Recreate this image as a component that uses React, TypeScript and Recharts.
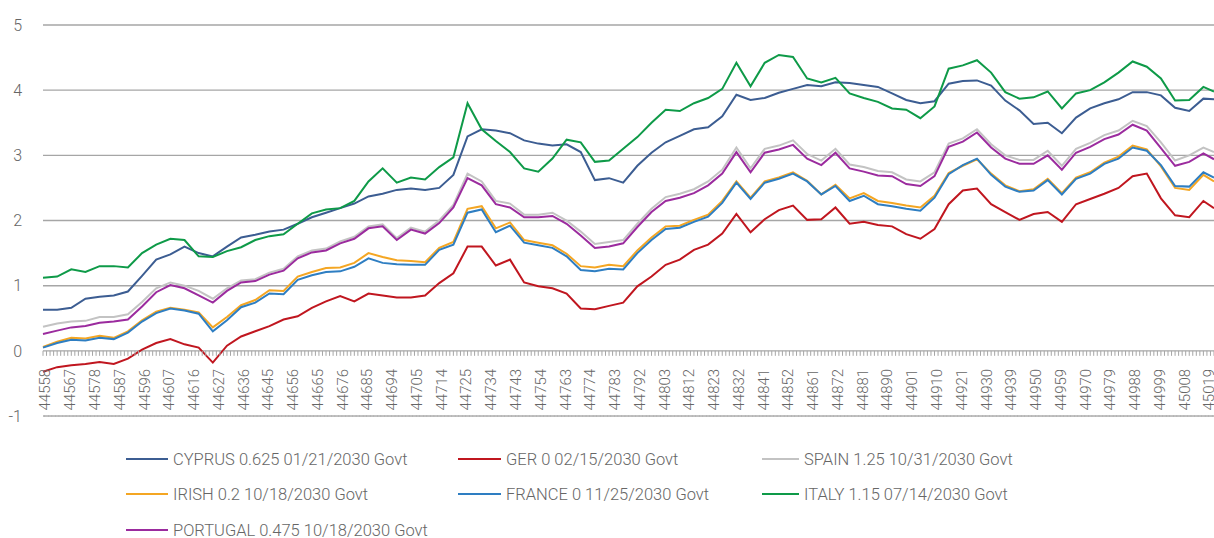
import { LineChart, Line, XAxis, YAxis, CartesianGrid } from "recharts";

// axis: Excel date serials, business days only
const FIRST_DAY = 44558;
const LAST_DAY = 45021;

const TICK_LABELS = [
  44558, 44567, 44578, 44587, 44596, 44607, 44616, 44627, 44636, 44645, 44656, 44665,
  44676, 44685, 44694, 44705, 44714, 44725, 44734, 44743, 44754, 44763, 44774, 44783,
  44792, 44803, 44812, 44823, 44832, 44841, 44852, 44861, 44872, 44881, 44890, 44901,
  44910, 44921, 44930, 44939, 44950, 44959, 44970, 44979, 44988, 44999, 45008, 45019,
];
const Y_TICKS = [-1, 0, 1, 2, 3, 4, 5];
const GRID_VALUES = [0, 1, 2, 3, 4, 5];

// yields read every 4th business day (plus the last day)
const CYPRUS = [
  0.63, 0.63, 0.66, 0.8, 0.83, 0.85, 0.91, 1.15, 1.4, 1.48, 1.6, 1.5, 1.45, 1.6, 1.74,
  1.78, 1.83, 1.86, 1.95, 2.05, 2.12, 2.19, 2.26, 2.37, 2.41, 2.47, 2.49, 2.47,
  2.5, 2.7, 3.29, 3.4, 3.38, 3.34, 3.23, 3.18, 3.15, 3.17, 3.05, 2.62, 2.65, 2.58,
  2.84, 3.04, 3.2, 3.3, 3.4, 3.43, 3.6, 3.93, 3.85, 3.88, 3.96, 4.02, 4.08, 4.06,
  4.12, 4.11, 4.08, 4.05, 3.95, 3.85, 3.8, 3.83, 4.1, 4.14, 4.15, 4.07, 3.84, 3.69,
  3.48, 3.5, 3.34, 3.58, 3.72, 3.8, 3.86, 3.97, 3.97, 3.92, 3.73, 3.68, 3.87, 3.86,
];
const GER = [
  -0.32, -0.25, -0.22, -0.2, -0.17, -0.2, -0.12, 0.02, 0.12, 0.18, 0.1, 0.05, -0.18, 0.08, 0.22,
  0.3, 0.38, 0.48, 0.53, 0.66, 0.76, 0.84, 0.76, 0.88, 0.85, 0.82, 0.82, 0.85,
  1.04, 1.19, 1.6, 1.6, 1.31, 1.4, 1.05, 0.99, 0.96, 0.88, 0.65, 0.64, 0.69, 0.74,
  0.99, 1.14, 1.32, 1.4, 1.55, 1.63, 1.8, 2.1, 1.82, 2.02, 2.16, 2.23, 2.01, 2.02,
  2.2, 1.95, 1.98, 1.93, 1.91, 1.79, 1.72, 1.87, 2.25, 2.46, 2.49, 2.25, 2.13, 2.01,
  2.1, 2.13, 1.98, 2.25, 2.33, 2.41, 2.5, 2.68, 2.72, 2.34, 2.08, 2.05, 2.3, 2.19,
];
const SPAIN = [
  0.37, 0.42, 0.45, 0.46, 0.52, 0.52, 0.56, 0.75, 0.96, 1.05, 1.0, 0.92, 0.8, 0.96, 1.08,
  1.1, 1.2, 1.26, 1.45, 1.54, 1.57, 1.68, 1.75, 1.91, 1.94, 1.73, 1.89, 1.83,
  2.0, 2.24, 2.72, 2.6, 2.3, 2.26, 2.09, 2.09, 2.12, 2.0, 1.83, 1.64, 1.67, 1.7,
  1.95, 2.18, 2.36, 2.41, 2.48, 2.6, 2.78, 3.12, 2.8, 3.1, 3.15, 3.23, 3.02, 2.92,
  3.1, 2.86, 2.82, 2.76, 2.74, 2.63, 2.6, 2.74, 3.18, 3.26, 3.4, 3.17, 3.0, 2.93,
  2.93, 3.07, 2.84, 3.1, 3.19, 3.31, 3.38, 3.53, 3.45, 3.2, 2.92, 3.0, 3.12, 3.05,
];
const IRISH = [
  0.06, 0.14, 0.2, 0.19, 0.23, 0.2, 0.3, 0.47, 0.6, 0.66, 0.63, 0.59, 0.36, 0.52, 0.7,
  0.78, 0.93, 0.92, 1.14, 1.21, 1.27, 1.28, 1.35, 1.5, 1.44, 1.39, 1.38, 1.36,
  1.58, 1.67, 2.18, 2.22, 1.88, 1.97, 1.7, 1.66, 1.62, 1.49, 1.3, 1.28, 1.32, 1.3,
  1.54, 1.74, 1.91, 1.92, 2.01, 2.09, 2.3, 2.6, 2.35, 2.6, 2.66, 2.74, 2.61, 2.4,
  2.55, 2.34, 2.42, 2.3, 2.27, 2.23, 2.2, 2.38, 2.73, 2.84, 2.94, 2.72, 2.54, 2.45,
  2.48, 2.64, 2.42, 2.66, 2.74, 2.89, 2.98, 3.15, 3.09, 2.83, 2.5, 2.47, 2.7, 2.6,
];
const FRANCE = [
  0.05, 0.12, 0.17, 0.16, 0.2, 0.18, 0.28, 0.45, 0.58, 0.65, 0.62, 0.57, 0.3, 0.47, 0.67,
  0.74, 0.88, 0.87, 1.09, 1.16, 1.21, 1.22, 1.29, 1.42, 1.35, 1.33, 1.32, 1.32,
  1.55, 1.63, 2.12, 2.17, 1.82, 1.92, 1.66, 1.62, 1.58, 1.45, 1.24, 1.22, 1.26, 1.25,
  1.5, 1.7, 1.87, 1.89, 1.98, 2.06, 2.27, 2.58, 2.33, 2.58, 2.64, 2.72, 2.6, 2.4,
  2.53, 2.3, 2.38, 2.25, 2.22, 2.18, 2.15, 2.35, 2.71, 2.85, 2.95, 2.7, 2.52, 2.44,
  2.46, 2.62, 2.4, 2.64, 2.72, 2.87, 2.95, 3.12, 3.07, 2.85, 2.53, 2.52, 2.74, 2.66,
];
const ITALY = [
  1.12, 1.14, 1.25, 1.21, 1.3, 1.3, 1.28, 1.5, 1.63, 1.72, 1.7, 1.45, 1.44, 1.53, 1.59,
  1.7, 1.76, 1.79, 1.95, 2.11, 2.17, 2.19, 2.3, 2.6, 2.8, 2.58, 2.66, 2.63,
  2.82, 2.97, 3.8, 3.4, 3.22, 3.05, 2.8, 2.75, 2.95, 3.24, 3.2, 2.9, 2.92, 3.1,
  3.28, 3.5, 3.7, 3.68, 3.8, 3.88, 4.02, 4.42, 4.06, 4.42, 4.54, 4.51, 4.18, 4.12,
  4.19, 3.95, 3.88, 3.82, 3.72, 3.7, 3.57, 3.75, 4.33, 4.38, 4.46, 4.27, 3.97, 3.87,
  3.89, 3.98, 3.72, 3.95, 4.0, 4.12, 4.27, 4.44, 4.36, 4.18, 3.84, 3.85, 4.05, 3.98,
];
const PORTUGAL = [
  0.26, 0.31, 0.36, 0.38, 0.43, 0.45, 0.48, 0.68, 0.9, 1.01, 0.96, 0.85, 0.74, 0.92, 1.05,
  1.07, 1.17, 1.23, 1.42, 1.51, 1.54, 1.65, 1.72, 1.88, 1.91, 1.7, 1.86, 1.8,
  1.96, 2.2, 2.65, 2.54, 2.25, 2.2, 2.05, 2.05, 2.07, 1.95, 1.77, 1.58, 1.6, 1.65,
  1.9, 2.13, 2.3, 2.35, 2.42, 2.54, 2.72, 3.05, 2.74, 3.04, 3.09, 3.16, 2.95, 2.85,
  3.04, 2.8, 2.75, 2.69, 2.68, 2.56, 2.53, 2.68, 3.13, 3.21, 3.35, 3.12, 2.95, 2.87,
  2.87, 3.0, 2.78, 3.04, 3.13, 3.25, 3.32, 3.47, 3.38, 3.11, 2.84, 2.9, 3.03, 2.94,
];

const SERIES = [
  { key: "cyprus", name: "CYPRUS 0.625 01/21/2030 Govt", color: "#3c5d92", values: CYPRUS },
  { key: "ger", name: "GER 0 02/15/2030 Govt", color: "#c0161f", values: GER },
  { key: "spain", name: "SPAIN 1.25 10/31/2030 Govt", color: "#c3c3c3", values: SPAIN },
  { key: "irish", name: "IRISH 0.2 10/18/2030 Govt", color: "#f4a623", values: IRISH },
  { key: "france", name: "FRANCE 0 11/25/2030 Govt", color: "#2e7ec2", values: FRANCE },
  { key: "italy", name: "ITALY 1.15 07/14/2030 Govt", color: "#0e9a48", values: ITALY },
  { key: "portugal", name: "PORTUGAL 0.475 10/18/2030 Govt", color: "#9b2b9e", values: PORTUGAL },
];

const BUSINESS_DAYS: number[] = [];
for (let d = FIRST_DAY; d <= LAST_DAY; d++) {
  if (d % 7 !== 0 && d % 7 !== 1) BUSINESS_DAYS.push(d);
}
const SAMPLE_DAYS = BUSINESS_DAYS.filter(
  (_, i) => i % 4 === 0 || i === BUSINESS_DAYS.length - 1
);

const data = BUSINESS_DAYS.map((day) => {
  const k = SAMPLE_DAYS.indexOf(day);
  const row: Record<string, number | null> = { day };
  SERIES.forEach((s) => {
    row[s.key] = k >= 0 ? s.values[k] : null;
  });
  return row;
});

// a little room under -1 so its gridline is not on the plot edge
const Y_MIN = -1.04;
const Y_MAX = 5;
const UNIT = 65.17;
const PLOT_TOP = 25;
const PLOT_LEFT = 43;
const PLOT_W = 1214 - PLOT_LEFT;
const PLOT_H = UNIT * (Y_MAX - Y_MIN);
const ZERO_Y = PLOT_TOP + UNIT * Y_MAX;
const MINUS_ONE_Y = ZERO_Y + UNIT;
const STEP = PLOT_W / (BUSINESS_DAYS.length - 1);
const CHART_H = 440;
const X_AXIS_H = CHART_H - PLOT_TOP - PLOT_H;
const TEXT = "#666666";
const GRID = "#a6a6a6";

// one tick per business day: a short mark under the zero line, a piece of the
// -1 gridline, and the rotated serial on every 7th day
function DayTick(props: any) {
  const { x, payload } = props;
  const lx = x + 2.5;
  const ly = ZERO_Y + 18;
  const gx1 = Math.max(PLOT_LEFT, x - STEP / 2 - 0.3);
  const gx2 = x + STEP / 2 + 0.3;
  return (
    <g>
      <line x1={x} x2={x} y1={ZERO_Y} y2={ZERO_Y + 5} stroke={GRID} strokeWidth={1} />
      <line x1={gx1} x2={gx2} y1={MINUS_ONE_Y} y2={MINUS_ONE_Y} stroke={GRID} strokeWidth={1.4} />
      {TICK_LABELS.includes(payload.value) && (
        <text
          x={lx}
          y={ly}
          transform={`rotate(-90, ${lx}, ${ly})`}
          textAnchor="end"
          dominantBaseline="central"
          fontSize={15}
          fontWeight={300}
          fill={TEXT}
        >
          {payload.value}
        </text>
      )}
    </g>
  );
}

const LEGEND_ROWS = [459, 494, 530];
const LEGEND_COLS = [
  { line: 126, w: 42 },
  { line: 458, w: 43 },
  { line: 762, w: 37 },
];

export default function App() {
  return (
    <div
      style={{
        position: "absolute",
        left: 0,
        top: 0,
        width: 1214,
        height: 538,
        overflow: "hidden",
        background: "#fff",
        fontFamily: "Roboto, 'Noto Sans', sans-serif",
      }}
    >
      <LineChart
        width={1214}
        height={CHART_H}
        data={data}
        margin={{ top: PLOT_TOP, right: 0, bottom: 0, left: 0 }}
      >
        <CartesianGrid
          vertical={false}
          stroke={GRID}
          strokeWidth={1.4}
          horizontalValues={GRID_VALUES}
        />
        <XAxis
          dataKey="day"
          interval={0}
          height={X_AXIS_H}
          axisLine={false}
          tickLine={false}
          tick={<DayTick />}
        />
        <YAxis
          type="number"
          domain={[Y_MIN, Y_MAX]}
          ticks={Y_TICKS}
          interval={0}
          width={PLOT_LEFT}
          axisLine={false}
          tickLine={false}
          tickMargin={15}
          tick={{ fontSize: 16, fill: TEXT, fontWeight: 300 }}
        />
        {SERIES.map((s) => (
          <Line
            key={s.key}
            type="linear"
            dataKey={s.key}
            name={s.name}
            stroke={s.color}
            strokeWidth={2}
            dot={false}
            connectNulls
            isAnimationActive={false}
          />
        ))}
      </LineChart>
      {SERIES.map((s, i) => {
        const col = LEGEND_COLS[i % 3];
        const top = LEGEND_ROWS[Math.floor(i / 3)];
        return (
          <div
            key={s.key}
            style={{
              position: "absolute",
              left: col.line,
              top: top - 11,
              height: 22,
              display: "flex",
              alignItems: "center",
              whiteSpace: "nowrap",
              fontSize: 16.5,
              fontWeight: 300,
              color: TEXT,
            }}
          >
            <span style={{ display: "inline-block", width: col.w, height: 2, background: s.color }} />
            <span style={{ marginLeft: 5 }}>{s.name}</span>
          </div>
        );
      })}
    </div>
  );
}
